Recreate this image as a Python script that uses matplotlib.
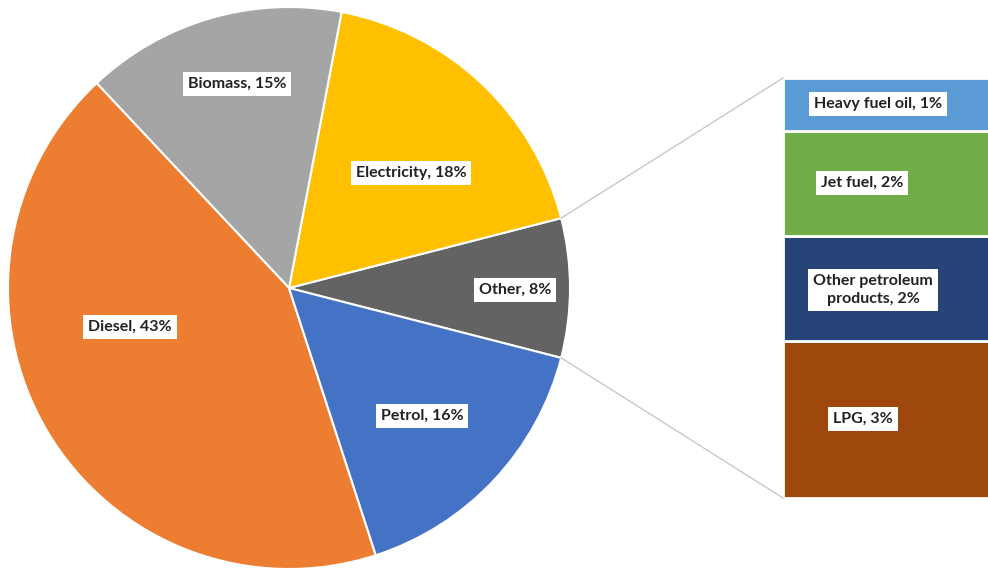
import numpy as np
import matplotlib.pyplot as plt

# main pie (counterclockwise, starting from "Other" on the right)
pie_labels = ["Other", "Electricity", "Biomass", "Diesel", "Petrol"]
pie_values = [8, 18, 15, 43, 16]
pie_colors = ["#636363", "#FFC000", "#A5A5A5", "#ED7D31", "#4472C4"]

# breakdown of "Other" (bottom to top)
bar_labels = ["LPG", "Other petroleum\nproducts", "Jet fuel", "Heavy fuel oil"]
bar_values = [3, 2, 2, 1]
bar_colors = ["#9E480E", "#264478", "#70AD47", "#5B9BD5"]

fig = plt.figure(figsize=(9.88, 5.69), dpi=100)
ax = fig.add_axes([0, 0, 1, 1])

cx, cy, r = 289, 281, 281
start = -pie_values[0] / 100 * 360 / 2
ax.pie(pie_values, colors=pie_colors, startangle=start, counterclock=True,
       center=(cx, cy), radius=r,
       wedgeprops=dict(edgecolor="white", linewidth=1.5))

box = dict(boxstyle="square,pad=0.3", fc="white", ec="none")
font = dict(fontsize=11.5, fontweight="bold", family=["Lato", "DejaVu Sans"],
            color="#222222", ha="center", va="center")

pie_label_pos = [(515, 279), (411, 396), (237, 485), (130, 242), (422, 153)]
for name, v, (x, y) in zip(pie_labels, pie_values, pie_label_pos):
    ax.text(x, y, f"{name}, {v}%", bbox=box, **font)

# stacked bar of the "Other" slice
bx0, bx1 = 783, 1000
by0, by1 = 71, 491
scale = (by1 - by0) / sum(bar_values)
bottoms = by0 + scale * np.concatenate([[0], np.cumsum(bar_values)[:-1]])
heights = [v * scale for v in bar_values]
ax.bar([bx0] * len(bar_values), heights, width=bx1 - bx0, bottom=bottoms,
       align="edge", color=bar_colors, edgecolor="white", linewidth=2)

bar_label_x = [863, 873, 862, 878]
for name, v, b, h, x in zip(bar_labels, bar_values, bottoms, heights, bar_label_x):
    ax.text(x, b + h / 2 - (2 if "\n" in name else 0), f"{name}, {v}%",
            bbox=box, linespacing=1.35, **font)

# connector lines
half = np.deg2rad(pie_values[0] / 100 * 360 / 2)
px = cx + r * np.cos(half)
ax.plot([px, bx0], [cy + r * np.sin(half), by1], color="#C8C8C8", lw=1)
ax.plot([px, bx0], [cy - r * np.sin(half), by0], color="#C8C8C8", lw=1)

ax.set_xlim(0, 988)
ax.set_ylim(0, 569)
ax.set_aspect("auto")
ax.axis("off")

fig.savefig("out.png", dpi=100)
